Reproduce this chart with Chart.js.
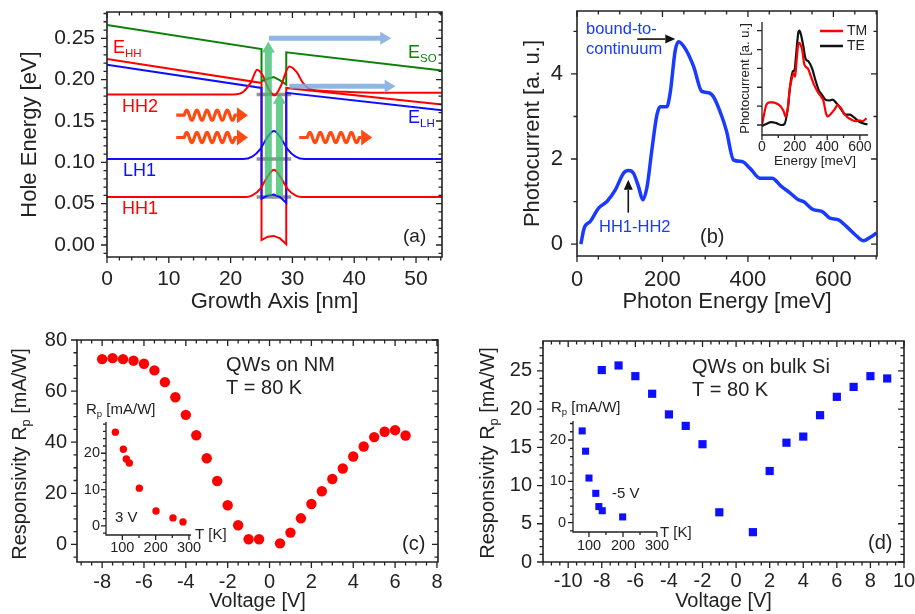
<!DOCTYPE html>
<html>
<head>
<meta charset="utf-8">
<script src="https://cdn.jsdelivr.net/npm/chart.js@4.4.0/dist/chart.umd.min.js"></script>
<style>
  body { margin: 0; background: #fff; }
  #wrap { position: relative; width: 915px; height: 614px; }
  canvas { position: absolute; left: 0; top: 0; }
</style>
</head>
<body>
<div id="wrap">
  <canvas id="ca" width="915" height="614"></canvas>
  <canvas id="cb" width="915" height="614"></canvas>
  <canvas id="cbi" width="915" height="614"></canvas>
  <canvas id="cc" width="915" height="614"></canvas>
  <canvas id="cci" width="915" height="614"></canvas>
  <canvas id="cd" width="915" height="614"></canvas>
  <canvas id="cdi" width="915" height="614"></canvas>
</div>
<script>
// ---- (a) band profile along growth axis ----
const esoX = [0, 25, 25, 26, 27, 28, 29, 29, 54.2];
const esoY = [0.266, 0.237, 0.198, 0.201, 0.203, 0.199, 0.194, 0.233, 0.211];
const ehhX = [0, 25, 25, 26, 27, 28, 29, 29, 54.2];
const ehhY = [0.225, 0.196, 0.006, 0.010, 0.011, 0.008, 0.001, 0.190, 0.170];
const elhX = [0, 25, 25, 26, 27, 28, 29, 29, 54.2];
const elhY = [0.218, 0.190, 0.056, 0.060, 0.061, 0.058, 0.051, 0.184, 0.163];
const hh2X = [0, 20.5, 22, 23.3, 24.3, 25.2, 26.2, 27.1, 28.1, 29.5, 30.7, 31.7, 33, 36, 44, 54.2];
const hh2Y = [0.182, 0.182, 0.185, 0.197, 0.212, 0.205, 0.188, 0.181, 0.192, 0.216, 0.209, 0.196, 0.188, 0.186, 0.184, 0.184];
const lh1X = [0, 22, 23.5, 24.8, 26, 27, 28, 29.2, 30.5, 32, 54.2];
const lh1Y = [0.104, 0.104, 0.107, 0.116, 0.131, 0.138, 0.131, 0.116, 0.107, 0.104, 0.104];
const hh1X = [0, 22.5, 23.5, 24.8, 26, 27, 28, 29.2, 30.5, 31.5, 54.2];
const hh1Y = [0.058, 0.058, 0.060, 0.068, 0.083, 0.091, 0.083, 0.068, 0.060, 0.058, 0.058];
const levelE = [0.058, 0.104, 0.182];
const levelX = [24.2, 29.8];
// optical transitions (green) and escape (blue)
const transX = [26.1, 27.9];
const transFrom = [0.060, 0.060];
const transTo = [0.246, 0.184];
const escX0 = [26.2, 29.5];
const escX1 = [46.0, 46.7];
const escY = [0.250, 0.192];
// incoming photons
const waveX0 = [11.2, 11.2, 31.1];
const waveX1 = [22.8, 22.8, 42.9];
const waveY = [0.157, 0.130, 0.130];
const aXTicks = [0, 10, 20, 30, 40, 50];
const aYTicks = [0, 0.05, 0.10, 0.15, 0.20, 0.25];

// ---- (b) photocurrent spectrum ----
const pcE = [9, 17, 31, 51, 70, 90, 109, 121, 132, 144, 154, 164, 175, 187, 195, 210, 218, 230, 238, 253,
  273, 292, 308, 319, 339, 350, 366, 386, 405, 428, 456, 479, 499, 518, 530, 553, 573, 592, 612, 631,
  651, 670, 686, 701];
const pcI = [0, 0.38, 0.53, 0.85, 1.0, 1.28, 1.67, 1.73, 1.67, 1.35, 1.04, 1.35, 2.2, 3.04, 3.23, 3.23, 3.55, 4.56, 4.76, 4.6,
  4.17, 3.59, 3.56, 3.47, 3.0, 2.65, 1.98, 1.94, 1.78, 1.55, 1.55, 1.35, 1.2, 1.04, 1.0, 0.81, 0.77, 0.61, 0.57, 0.41,
  0.22, 0.08, 0.16, 0.26];
const bXTicks = [0, 200, 400, 600];
const bYTicks = [0, 2, 4];
// inset: TE / TM
const teE = [0, 26, 57, 87, 118, 138, 159, 173, 189, 199, 210, 224, 230, 240, 254, 266, 287, 307, 327, 348,
  368, 388, 413, 433, 457, 484, 510, 539, 565, 592, 616, 637, 647];
const teI = [-0.01, 0.01, 0.03, 0.02, 0, 0.01, 0.19, 0.42, 0.57, 0.58, 0.76, 0.99, 1.0, 0.95, 0.83, 0.71, 0.67, 0.6, 0.48, 0.37,
  0.32, 0.27, 0.26, 0.27, 0.23, 0.17, 0.11, 0.11, 0.08, 0.04, 0.02, 0.01, 0.01];
const tmE = [0, 10, 26, 47, 67, 98, 118, 134, 144, 159, 169, 179, 193, 203, 214, 224, 234, 246, 260, 281,
  301, 321, 342, 362, 376, 393, 403, 423, 443, 464, 484, 504, 525, 555, 576, 596, 616, 641];
const tmI = [0, 0.09, 0.21, 0.24, 0.24, 0.22, 0.19, 0.14, 0.09, 0.18, 0.37, 0.46, 0.55, 0.51, 0.72, 0.87, 0.86, 0.8, 0.64, 0.6,
  0.51, 0.42, 0.35, 0.3, 0.26, 0.12, 0.09, 0.12, 0.16, 0.21, 0.18, 0.12, 0.08, 0.05, 0.04, 0.05, 0.04, 0.07];
const biXTicks = [0, 200, 400, 600];
const biYTicks = [0, 0.2, 0.4, 0.6, 0.8, 1.0];

// ---- (c) QWs on NM ----
const vC = [-8, -7.5, -7, -6.5, -6, -5.5, -5, -4.5, -4, -3.5, -3, -2.5, -2, -1.5, -1, -0.5,
  0.5, 1, 1.5, 2, 2.5, 3, 3.5, 4, 4.5, 5, 5.5, 6, 6.5];
const rC = [72.5, 72.9, 72.5, 71.9, 70.7, 68.1, 63.5, 57.6, 50.7, 42.7, 33.7, 24.8, 15.3, 7.5, 2.0, 2.0,
  0.4, 4.6, 10.2, 15.8, 20.8, 25.6, 29.7, 34.4, 38.3, 42.0, 44.1, 44.7, 42.6];
const tC = [79, 103, 112, 121, 151, 201, 252, 282];
const rTC = [25.8, 21.1, 18.4, 17.3, 10.4, 4.1, 2.2, 1.1];
const cXTicks = [-8, -6, -4, -2, 0, 2, 4, 6, 8];
const cYTicks = [0, 20, 40, 60, 80];
const ciXTicks = [100, 200, 300];
const ciYTicks = [0, 10, 20];

// ---- (d) QWs on bulk Si ----
const vD = [-8, -7, -6, -5, -4, -3, -2, -1, 1, 2, 3, 4, 5, 6, 7, 8, 9];
const rD = [25.1, 25.7, 24.3, 22.0, 19.3, 17.8, 15.4, 6.5, 3.9, 11.9, 15.6, 16.4, 19.2, 21.6, 22.9, 24.3, 24.0];
const tD = [80, 90, 100, 120, 129, 139, 199];
const rTD = [22.2, 17.3, 10.8, 7.1, 3.9, 2.9, 1.4];
const dXTicks = [-10, -8, -6, -4, -2, 0, 2, 4, 6, 8, 10];
const dYTicks = [0, 5, 10, 15, 20, 25];
const diXTicks = [100, 200, 300];
const diYTicks = [0, 10, 20];

// ---------------------------------------------------------------
const INK = '#222';
const FONT = '"Liberation Sans", Arial, sans-serif';
const RED = '#ff0000';
const BLUE = '#0f0fff';
const BLUE_B = '#1a3bff';
const GREEN = '#0a820a';
const PW = 915, PH = 614;
Chart.defaults.font.family = FONT;

function pts(xs, ys) {
  return xs.map((x, i) => ({x: x, y: ys[i]}));
}

function lineDs(xs, ys, color, width, smooth) {
  return {
    data: pts(xs, ys), showLine: true, borderColor: color, borderWidth: width,
    pointRadius: 0, tension: 0, cubicInterpolationMode: smooth ? 'monotone' : 'default'
  };
}

function scale(o, horiz) {
  return {
    type: 'linear', position: horiz ? 'bottom' : 'left',
    min: o.min, max: o.max,
    grid: {display: false, drawTicks: false},
    border: {display: false},
    afterBuildTicks: s => { s.ticks = o.ticks.map(v => ({value: v})); },
    ticks: {
      display: !o.hide, autoSkip: false, maxRotation: 0, minRotation: 0,
      padding: o.pad, color: INK, font: {family: FONT, size: o.size},
      callback: o.fmt || (v => String(v))
    },
    title: {
      display: !!o.title, text: o.title || '', color: INK, padding: 0,
      font: {family: FONT, size: o.titleSize || o.size, lineHeight: 1.2}
    },
    afterFit: s => {
      if (horiz) s.height = o.fit; else s.width = o.fit;
      s.paddingLeft = s.paddingRight = s.paddingTop = s.paddingBottom = 0;
    }
  };
}

// box = plot area in page pixels
function build(id, box, datasets, xs, ys, extras) {
  const yl = ys.titleX != null ? ys.titleX - ys.titleSize * 0.6 : box.l - 40;
  const xb = xs.titleY != null ? xs.titleY + xs.titleSize * 0.6 : box.b + 30;
  xs.fit = xb - box.b;
  ys.fit = box.l - yl;
  return new Chart(document.getElementById(id), {
    type: 'scatter',
    data: {datasets: datasets},
    options: {
      responsive: false, animation: false, events: [],
      layout: {padding: {left: yl, top: box.t, right: PW - box.r, bottom: PH - xb}},
      plugins: {legend: {display: false}, tooltip: {enabled: false}},
      scales: {x: scale(xs, true), y: scale(ys, false)}
    },
    plugins: extras
  });
}

// axis frame with minor ticks (outward left/bottom, inward top/right)
function frame(o) {
  return {
    id: 'frame',
    afterDatasetsDraw(chart) {
      const {ctx, chartArea: a, scales: {x, y}} = chart;
      ctx.save();
      ctx.strokeStyle = INK;
      ctx.lineWidth = o.lw || 1.6;
      ctx.beginPath();
      if (o.box) {
        ctx.rect(a.left, a.top, a.right - a.left, a.bottom - a.top);
      } else {
        ctx.moveTo(a.left, a.top);
        ctx.lineTo(a.left, a.bottom);
        ctx.lineTo(a.right, a.bottom);
      }
      ctx.stroke();
      ctx.lineWidth = 1.3;
      ctx.beginPath();
      const big = o.big || 6, small = o.small || 3.5;
      const tx = (v, len) => {
        const p = x.getPixelForValue(v);
        if (p < a.left - 0.5 || p > a.right + 0.5) return;
        ctx.moveTo(p, a.bottom); ctx.lineTo(p, a.bottom + len);
        if (o.box) { ctx.moveTo(p, a.top); ctx.lineTo(p, a.top + len); }
      };
      const ty = (v, len) => {
        const p = y.getPixelForValue(v);
        if (p < a.top - 0.5 || p > a.bottom + 0.5) return;
        ctx.moveTo(a.left, p); ctx.lineTo(a.left - len, p);
        if (o.box) { ctx.moveTo(a.right, p); ctx.lineTo(a.right - len, p); }
      };
      const minors = (s, step, fn) => {
        for (let k = Math.ceil(s.min / step - 1e-6); k * step <= s.max + 1e-9; k++) fn(k * step, small);
      };
      minors(x, o.xMinor, tx);
      minors(y, o.yMinor, ty);
      x.ticks.forEach(t => tx(t.value, big));
      y.ticks.forEach(t => ty(t.value, big));
      ctx.stroke();
      ctx.restore();
    }
  };
}

// text with optional subscript parts: [[text, isSub], ...]
function txt(ctx, parts, x, y, size, color, align, rot) {
  if (typeof parts === 'string') parts = [[parts]];
  ctx.save();
  ctx.translate(x, y);
  if (rot) ctx.rotate(rot);
  ctx.fillStyle = color || INK;
  ctx.textBaseline = 'middle';
  const sub = size * 0.64;
  const ws = parts.map(p => {
    ctx.font = (p[1] ? sub : size) + 'px ' + FONT;
    return ctx.measureText(p[0]).width;
  });
  const tot = ws.reduce((s, w) => s + w, 0);
  let cx = align === 'center' ? -tot / 2 : align === 'right' ? -tot : 0;
  parts.forEach((p, i) => {
    ctx.font = (p[1] ? sub : size) + 'px ' + FONT;
    ctx.fillText(p[0], cx, p[1] ? size * 0.3 : 0);
    cx += ws[i];
  });
  ctx.restore();
}

function blockArrow(ctx, x0, y0, x1, y1, shaft, head, headLen, color) {
  const L = Math.hypot(x1 - x0, y1 - y0);
  ctx.save();
  ctx.translate(x0, y0);
  ctx.rotate(Math.atan2(y1 - y0, x1 - x0));
  ctx.fillStyle = color;
  ctx.beginPath();
  ctx.moveTo(0, -shaft / 2);
  ctx.lineTo(L - headLen, -shaft / 2);
  ctx.lineTo(L - headLen, -head / 2);
  ctx.lineTo(L, 0);
  ctx.lineTo(L - headLen, head / 2);
  ctx.lineTo(L - headLen, shaft / 2);
  ctx.lineTo(0, shaft / 2);
  ctx.closePath();
  ctx.fill();
  ctx.restore();
}

function lineArrow(ctx, x0, y0, x1, y1, color) {
  const ang = Math.atan2(y1 - y0, x1 - x0), hl = 10, hw = 4.5;
  ctx.save();
  ctx.strokeStyle = color; ctx.fillStyle = color; ctx.lineWidth = 1.6;
  ctx.beginPath();
  ctx.moveTo(x0, y0);
  ctx.lineTo(x1 - hl * Math.cos(ang), y1 - hl * Math.sin(ang));
  ctx.stroke();
  ctx.translate(x1, y1);
  ctx.rotate(ang);
  ctx.beginPath();
  ctx.moveTo(0, 0); ctx.lineTo(-hl, -hw); ctx.lineTo(-hl, hw);
  ctx.closePath();
  ctx.fill();
  ctx.restore();
}

function wavy(ctx, x0, x1, y, color) {
  const dash = 8, head = 11, amp = 5, periods = 5;
  const ws = x0 + dash, we = x1 - head - 2;
  ctx.save();
  ctx.strokeStyle = color; ctx.fillStyle = color;
  ctx.lineWidth = 3.2; ctx.lineJoin = 'round';
  ctx.beginPath();
  ctx.moveTo(x0, y);
  ctx.lineTo(ws, y);
  for (let k = 0; k <= 100; k++) {
    const t = k / 100;
    ctx.lineTo(ws + (we - ws) * t, y - amp * Math.sin(2 * Math.PI * periods * t));
  }
  ctx.lineTo(x1 - head, y);
  ctx.stroke();
  ctx.beginPath();
  ctx.moveTo(x1, y); ctx.lineTo(x1 - head, y - 8); ctx.lineTo(x1 - head, y + 8);
  ctx.closePath();
  ctx.fill();
  ctx.restore();
}

// ---------------- panel (a) ----------------
const levelDs = levelE.map(e => ({
  data: pts(levelX, [e, e]), showLine: true, borderColor: 'rgba(120,120,120,0.8)',
  borderWidth: 3.5, pointRadius: 0
}));
build('ca', {l: 107, t: 12, r: 442, b: 257}, [
  lineDs(hh1X, hh1Y, RED, 2, true),
  lineDs(lh1X, lh1Y, BLUE, 2, true),
  lineDs(hh2X, hh2Y, RED, 2, true),
  lineDs(elhX, elhY, BLUE, 2, false),
  lineDs(ehhX, ehhY, RED, 2, false),
  lineDs(esoX, esoY, GREEN, 2, false),
  ...levelDs
], {min: 0, max: 54.2, ticks: aXTicks, size: 21, pad: 9.7, title: 'Growth Axis [nm]', titleSize: 22, titleY: 301.7},
   {min: -0.0145, max: 0.2818, ticks: aYTicks, size: 21, pad: 12, fmt: v => v.toFixed(2),
    title: 'Hole Energy [eV]', titleSize: 22, titleX: 30},
[frame({box: true, xMinor: 2, yMinor: 0.01}), {
  id: 'decoA',
  afterDatasetsDraw(chart) {
    const {ctx, scales: {x, y}} = chart;
    const px = v => x.getPixelForValue(v), py = v => y.getPixelForValue(v);
    transX.forEach((v, i) => blockArrow(ctx, px(v), py(transFrom[i]), px(v), py(transTo[i]),
      7, 13, 11, 'rgba(60,190,110,0.78)'));
    escX0.forEach((v, i) => blockArrow(ctx, px(v), py(escY[i]), px(escX1[i]), py(escY[i]),
      5, 13, 11, 'rgba(125,170,220,0.85)'));
    waveX0.forEach((v, i) => wavy(ctx, px(v), px(waveX1[i]), py(waveY[i]), '#ff4a12'));
    txt(ctx, [['E'], ['HH', 1]], 113, 48, 18, RED);
    txt(ctx, 'HH2', 122, 107, 18, RED);
    txt(ctx, 'LH1', 123, 171, 18, BLUE);
    txt(ctx, 'HH1', 122, 209, 18, RED);
    txt(ctx, [['E'], ['SO', 1]], 408, 53, 18, GREEN);
    txt(ctx, [['E'], ['LH', 1]], 408, 118, 18, BLUE);
    txt(ctx, '(a)', 403, 237, 19, INK);
  }
}]);

// ---------------- panel (b) ----------------
build('cb', {l: 577, t: 11, r: 877, b: 256}, [
  lineDs(pcE, pcI, BLUE_B, 3.5, true)
], {min: 0, max: 702, ticks: bXTicks, size: 22, pad: 10.8, title: 'Photon Energy [meV]', titleSize: 22, titleY: 301.7},
   {min: -0.28, max: 5.48, ticks: bYTicks, size: 22, pad: 14, title: 'Photocurrent [a. u.]', titleSize: 22, titleX: 533},
[frame({box: true, xMinor: 50, yMinor: 1}), {
  id: 'decoB',
  afterDatasetsDraw(chart) {
    const {ctx, scales: {x, y}} = chart;
    const px = v => x.getPixelForValue(v), py = v => y.getPixelForValue(v);
    txt(ctx, 'bound-to-', 586, 29, 16.5, BLUE_B);
    txt(ctx, 'continuum', 586, 49, 16.5, BLUE_B);
    txt(ctx, 'HH1-HH2', 599, 227, 16.5, BLUE_B);
    txt(ctx, '(b)', 700, 237, 20, INK);
    lineArrow(ctx, px(141), py(4.82), px(230), py(4.82), '#111');
    lineArrow(ctx, px(120), py(0.74), px(120), py(1.51), '#111');
  }
}]);

build('cbi', {l: 762, t: 22, r: 868, b: 135}, [
  lineDs(tmE, tmI, RED, 2.2, true),
  lineDs(teE, teI, '#111', 2.2, true)
], {min: 0, max: 650, ticks: biXTicks, size: 14, pad: 3.8, title: 'Energy [meV]', titleSize: 13.5, titleY: 161.7},
   {min: -0.106, max: 1.092, ticks: biYTicks, size: 13, pad: 3, hide: true,
    title: 'Photocurrent [a. u.]', titleSize: 13, titleX: 745.7},
[frame({box: false, xMinor: 100, yMinor: 0.2, big: 5, small: 3, lw: 1.3}), {
  id: 'decoBi',
  afterDatasetsDraw(chart) {
    const ctx = chart.ctx;
    ctx.save();
    ctx.lineWidth = 2.5;
    ctx.strokeStyle = RED;
    ctx.beginPath(); ctx.moveTo(820, 31); ctx.lineTo(843, 31); ctx.stroke();
    ctx.strokeStyle = '#111';
    ctx.beginPath(); ctx.moveTo(820, 46); ctx.lineTo(843, 46); ctx.stroke();
    ctx.restore();
    txt(ctx, 'TM', 847, 31, 14, INK);
    txt(ctx, 'TE', 847, 46, 14, INK);
  }
}]);

// ---------------- panel (c) ----------------
function dotDs(xs, ys, color, style, r) {
  return {data: pts(xs, ys), pointStyle: style, pointRadius: r, pointBackgroundColor: color,
    pointBorderColor: color, pointBorderWidth: 0, showLine: false};
}

build('cc', {l: 77, t: 340, r: 438, b: 562}, [
  dotDs(vC, rC, RED, 'circle', 5.2)
], {min: -9.2, max: 8.05, ticks: cXTicks, size: 20, pad: 8.7, title: 'Voltage [V]', titleSize: 20, titleY: 601.7},
   {min: -6.9, max: 80, ticks: cYTicks, size: 20, pad: 10},
[frame({box: true, xMinor: 0.5, yMinor: 5}), {
  id: 'decoC',
  afterDatasetsDraw(chart) {
    const ctx = chart.ctx;
    txt(ctx, [['Responsivity R'], ['p', 1], [' [mA/W]']], 20, 454, 20, INK, 'center', -Math.PI / 2);
    txt(ctx, 'QWs on NM', 226, 365, 20, INK);
    txt(ctx, 'T = 80 K', 226, 388, 20, INK);
    txt(ctx, '(c)', 402, 544, 20, INK);
  }
}]);

build('cci', {l: 106, t: 422, r: 191, b: 535}, [
  dotDs(tC, rTC, RED, 'circle', 3.7)
], {min: 51, max: 306, ticks: ciXTicks, size: 14.5, pad: 3.8},
   {min: -2.5, max: 28.6, ticks: ciYTicks, size: 14.5, pad: 6},
[frame({box: false, xMinor: 50, yMinor: 2, big: 5, small: 3, lw: 1.3}), {
  id: 'decoCi',
  afterDatasetsDraw(chart) {
    const ctx = chart.ctx;
    txt(ctx, [['R'], ['p', 1], [' [mA/W]']], 86, 410, 15, INK);
    txt(ctx, '3 V', 115, 518, 15, INK);
    txt(ctx, 'T [K]', 195, 535, 15, INK);
  }
}]);

// ---------------- panel (d) ----------------
build('cd', {l: 543, t: 341, r: 904, b: 562}, [
  dotDs(vD, rD, BLUE, 'rect', 5.8)
], {min: -11.5, max: 10, ticks: dXTicks, size: 20, pad: 7.7, title: 'Voltage [V]', titleSize: 20, titleY: 601.7},
   {min: 0, max: 28.9, ticks: dYTicks, size: 20, pad: 11},
[frame({box: true, xMinor: 0.5, yMinor: 1}), {
  id: 'decoD',
  afterDatasetsDraw(chart) {
    const ctx = chart.ctx;
    txt(ctx, [['Responsivity R'], ['p', 1], [' [mA/W]']], 488, 453, 20, INK, 'center', -Math.PI / 2);
    txt(ctx, 'QWs on bulk Si', 692, 367, 20, INK);
    txt(ctx, 'T = 80 K', 692, 390, 20, INK);
    txt(ctx, '(d)', 868, 543, 20, INK);
  }
}]);

build('cdi', {l: 573, t: 421, r: 657, b: 532}, [
  dotDs(tD, rTD, BLUE, 'rect', 5)
], {min: 53, max: 300, ticks: diXTicks, size: 14.5, pad: 5.3},
   {min: -2.25, max: 24.6, ticks: diYTicks, size: 14.5, pad: 7},
[frame({box: false, xMinor: 50, yMinor: 2, big: 5, small: 3, lw: 1.3}), {
  id: 'decoDi',
  afterDatasetsDraw(chart) {
    const ctx = chart.ctx;
    txt(ctx, [['R'], ['p', 1], [' [mA/W]']], 551, 408, 15, INK);
    txt(ctx, '-5 V', 612, 494, 15, INK);
    txt(ctx, 'T [K]', 660, 533, 15, INK);
  }
}]);
</script>
</body>
</html>
